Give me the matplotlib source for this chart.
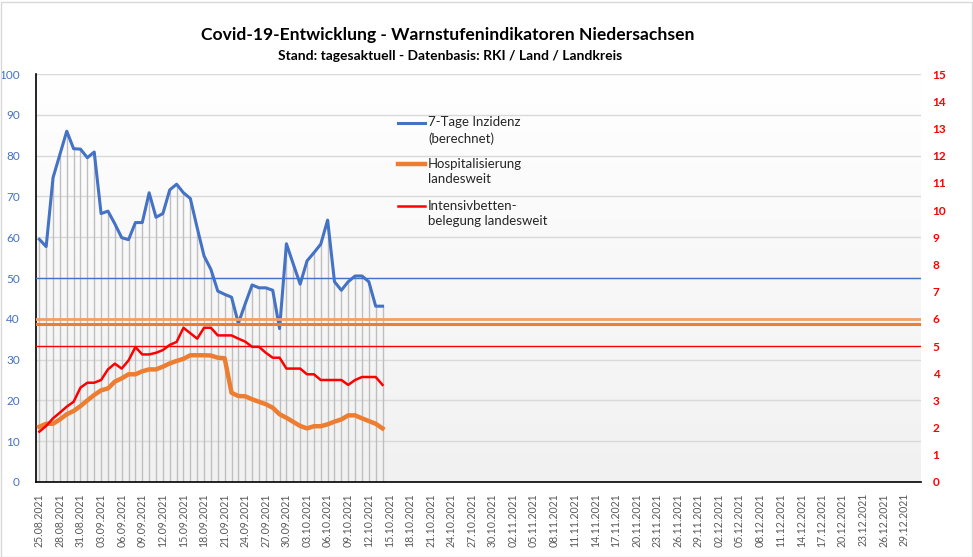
import numpy as np
import pandas as pd
import matplotlib
matplotlib.use('Agg')
import matplotlib.pyplot as plt
import matplotlib.dates as mdates
from matplotlib.lines import Line2D

plt.rcParams['font.family'] = ['Lato', 'DejaVu Sans']

# ---- data ----
dates = pd.date_range('2021-08-25', periods=51, freq='D')
axis_ticks = pd.date_range('2021-08-25', '2021-12-29', freq='3D')
tick_labels = [d.strftime('%d.%m.%Y') for d in axis_ticks]

inzidenz = [59.5, 57.7, 74.6, 80.3, 86.0, 81.7, 81.6, 79.5, 80.9, 65.8,
            66.4, 63.3, 59.9, 59.4, 63.6, 63.6, 70.9, 64.9, 65.8, 71.6,
            73.0, 70.9, 69.5, 62.3, 55.4, 52.1, 46.8, 46.0, 45.3, 38.9,
            43.7, 48.3, 47.6, 47.6, 47.0, 37.6, 58.4, 53.4, 48.5, 54.2,
            56.2, 58.3, 64.2, 49.1, 47.0, 49.1, 50.5, 50.5, 49.1, 43.1,
            43.1]
hospitalisierung = [2.03, 2.14, 2.14, 2.30, 2.49, 2.61, 2.79, 3.00, 3.20, 3.37,
                    3.44, 3.69, 3.81, 3.96, 3.96, 4.07, 4.14, 4.14, 4.24, 4.36,
                    4.45, 4.53, 4.66, 4.66, 4.66, 4.65, 4.57, 4.55, 3.28, 3.16,
                    3.15, 3.04, 2.95, 2.86, 2.73, 2.49, 2.36, 2.21, 2.06, 1.97,
                    2.05, 2.05, 2.12, 2.22, 2.30, 2.45, 2.45, 2.34, 2.24, 2.14,
                    1.97]
intensiv = [1.85, 2.06, 2.34, 2.55, 2.77, 2.95, 3.47, 3.65, 3.65, 3.75,
            4.14, 4.35, 4.17, 4.47, 4.96, 4.69, 4.69, 4.75, 4.85, 5.04,
            5.15, 5.67, 5.47, 5.27, 5.67, 5.67, 5.39, 5.39, 5.39, 5.27,
            5.16, 4.97, 4.97, 4.75, 4.57, 4.57, 4.17, 4.17, 4.17, 3.96,
            3.96, 3.75, 3.75, 3.75, 3.75, 3.57, 3.75, 3.86, 3.86, 3.86,
            3.57]

schwelle_inzidenz = 50
schwelle_hosp = [6.0, 5.82]
schwelle_icu = 5

BLUE = '#4472C4'
ORANGE = '#ED7D31'
RED = '#FF0000'

fig = plt.figure(figsize=(9.73, 5.57), dpi=100)
ax = fig.add_axes([0.0375, 0.1347, 0.9095, 0.7323])
ax2 = ax.twinx()

# background gradient
grad = np.linspace(1.0, 0.0, 256).reshape(-1, 1)
ax.patch.set_visible(False)
cmap = matplotlib.colors.LinearSegmentedColormap.from_list('g', ['#f1f1f1', '#ffffff'])
ax.imshow(grad, extent=[0, 1, 0, 1], transform=ax.transAxes, cmap=cmap,
          aspect='auto', zorder=0, origin='upper')
ax.set_zorder(0)

x = mdates.date2num(dates)
x0 = mdates.date2num(pd.Timestamp('2021-08-25'))
ax.set_xlim(x0 - 0.41, x0 + 128.5)
ax.set_ylim(0, 100)
ax2.set_ylim(0, 15)

ax.set_yticks(np.arange(0, 101, 10))
ax2.set_yticks(np.arange(0, 16, 1))
ax.yaxis.grid(True, color='#d9d9d9', lw=1, zorder=1)
ax.set_axisbelow(True)

# drop lines
ax.vlines(x, 0, inzidenz, colors='#bfbfbf', lw=1, zorder=2)

# thresholds
ax.axhline(schwelle_inzidenz, color=BLUE, lw=1, zorder=3)
ax2.axhline(schwelle_hosp[0], color='#F0A066', lw=2, zorder=3)
ax2.axhline(schwelle_hosp[1], color=ORANGE, lw=2.2, zorder=3)
ax2.axhline(schwelle_icu, color=RED, lw=1, zorder=3)

# series
ax.plot(x, inzidenz, color=BLUE, lw=2.2, zorder=4, solid_joinstyle='round')
ax2.plot(x, hospitalisierung, color=ORANGE, lw=3.2, zorder=4, solid_joinstyle='round')
ax2.plot(x, intensiv, color=RED, lw=1.8, zorder=5, solid_joinstyle='round')

# x ticks
ax.set_xticks(mdates.date2num(axis_ticks))
ax.set_xticklabels(tick_labels, rotation=90, fontsize=7.6, color='#595959')
ax.tick_params(axis='x', length=0, pad=8)
ax.tick_params(axis='y', length=0, pad=12, labelcolor=BLUE, labelsize=8.5)
ax2.tick_params(axis='y', length=0, pad=8, labelcolor=RED, labelsize=8.5)
for t in ax2.get_yticklabels():
    t.set_fontweight('bold')

for s in ['top', 'right']:
    ax.spines[s].set_visible(False)
for s in ax.spines.values():
    s.set_color('black')
    s.set_linewidth(1.2)
for s in ax2.spines.values():
    s.set_visible(False)

# legend (manual, handle on first text line)
leg = [('7-Tage Inzidenz\n(berechnet)', BLUE, 2.2),
       ('Hospitalisierung\nlandesweit', ORANGE, 3.2),
       ('Intensivbetten-\nbelegung landesweit', RED, 1.8)]
ys = [123, 164, 206]
for (lab, col, lw), ypx in zip(leg, ys):
    yf = 1 - ypx / 557
    fig.add_artist(Line2D([398 / 973, 425 / 973], [yf, yf], color=col, lw=lw))
    fig.text(428 / 973, yf + 6.5 / 557, lab, fontsize=9.5, color='#262626',
             va='top', ha='left', linespacing=1.35)

# titles
fig.text(448 / 973, 1 - 35 / 557, 'Covid-19-Entwicklung - Warnstufenindikatoren Niedersachsen',
         ha='center', va='center', fontsize=12.6, fontweight='bold', color='black')
fig.text(450 / 973, 1 - 56 / 557, 'Stand: tagesaktuell - Datenbasis: RKI / Land / Landkreis',
         ha='center', va='center', fontsize=10, fontweight='bold', color='black')

# outer border
fig.add_artist(plt.Rectangle((0.5 / 973, 0.5 / 557), 1 - 2 / 973, 1 - 2 / 557,
                             transform=fig.transFigure, fill=False,
                             edgecolor='#d9d9d9', lw=1))

fig.savefig('out.png', dpi=100)
